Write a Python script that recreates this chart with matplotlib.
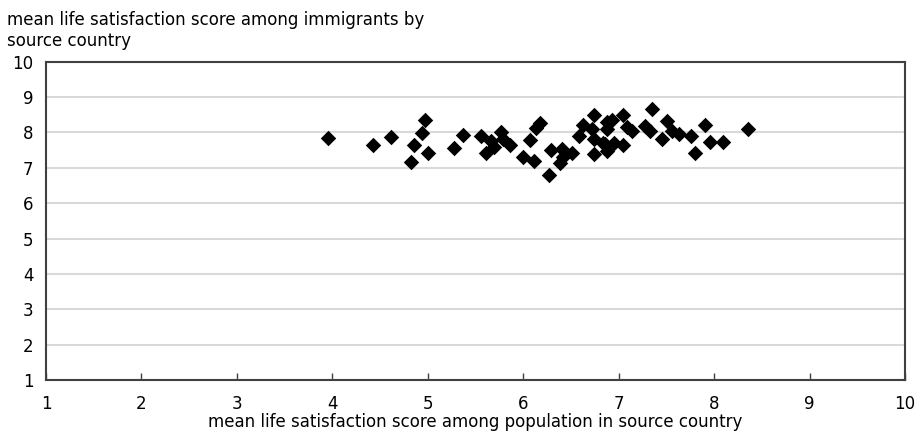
import matplotlib.pyplot as plt

# mean life satisfaction: population in source country (x) vs immigrants from it (y)
source_score = [3.95, 4.43, 4.61, 4.97, 4.94, 4.86, 5.00, 4.82, 5.28, 5.37,
                5.56, 5.77, 5.66, 5.61, 5.69, 5.79, 5.86, 6.18, 6.13, 6.07,
                6.00, 6.11, 6.27, 6.29, 6.41, 6.39, 6.42, 6.51, 6.58, 6.63,
                6.74, 6.72, 6.74, 6.74, 6.88, 6.84, 6.93, 7.05, 6.88, 7.09,
                7.14, 6.86, 6.95, 6.88, 7.05, 7.35, 7.28, 7.33, 7.51, 7.56,
                7.63, 7.45, 7.76, 7.80, 7.91, 7.96, 8.09, 8.36]
immigrant_score = [7.83, 7.65, 7.88, 8.35, 7.97, 7.65, 7.43, 7.16, 7.55, 7.93,
                   7.89, 8.02, 7.76, 7.43, 7.60, 7.81, 7.64, 8.26, 8.13, 7.78,
                   7.29, 7.19, 6.79, 7.50, 7.53, 7.14, 7.29, 7.41, 7.89, 8.21,
                   8.48, 8.10, 7.81, 7.38, 8.29, 7.71, 8.36, 8.50, 8.10, 8.14,
                   8.05, 7.67, 7.71, 7.48, 7.64, 8.65, 8.19, 8.05, 8.31, 8.05,
                   7.95, 7.81, 7.89, 7.43, 8.22, 7.74, 7.74, 8.10]
ticks = list(range(1, 11))

fig = plt.figure(figsize=(9.24, 4.34), dpi=100)
ax = fig.add_axes([0.0498, 0.1244, 0.9296, 0.7336])

ax.scatter(source_score, immigrant_score, marker='D', s=62, color='black',
           linewidths=0, zorder=3)

ax.set_xlim(1, 10)
ax.set_ylim(1, 10)
ax.set_xticks(ticks)
ax.set_yticks(ticks)
ax.yaxis.grid(True, color='#d9d9d9', linewidth=1.5)
ax.set_axisbelow(True)
ax.tick_params(axis='x', direction='in', length=5, width=1, color='#404040',
               labelsize=12, pad=11)
ax.tick_params(axis='y', length=0, labelsize=12, pad=9)
for side in ax.spines.values():
    side.set_color('#404040')
    side.set_linewidth(1.5)

fig.text(0.008, 0.975, 'mean life satisfaction score among immigrants by\nsource country',
         ha='left', va='top', fontsize=12, linespacing=1.2)
ax.set_xlabel('mean life satisfaction score among population in source country',
              fontsize=12, labelpad=0)

plt.savefig('out.png', dpi=100)
